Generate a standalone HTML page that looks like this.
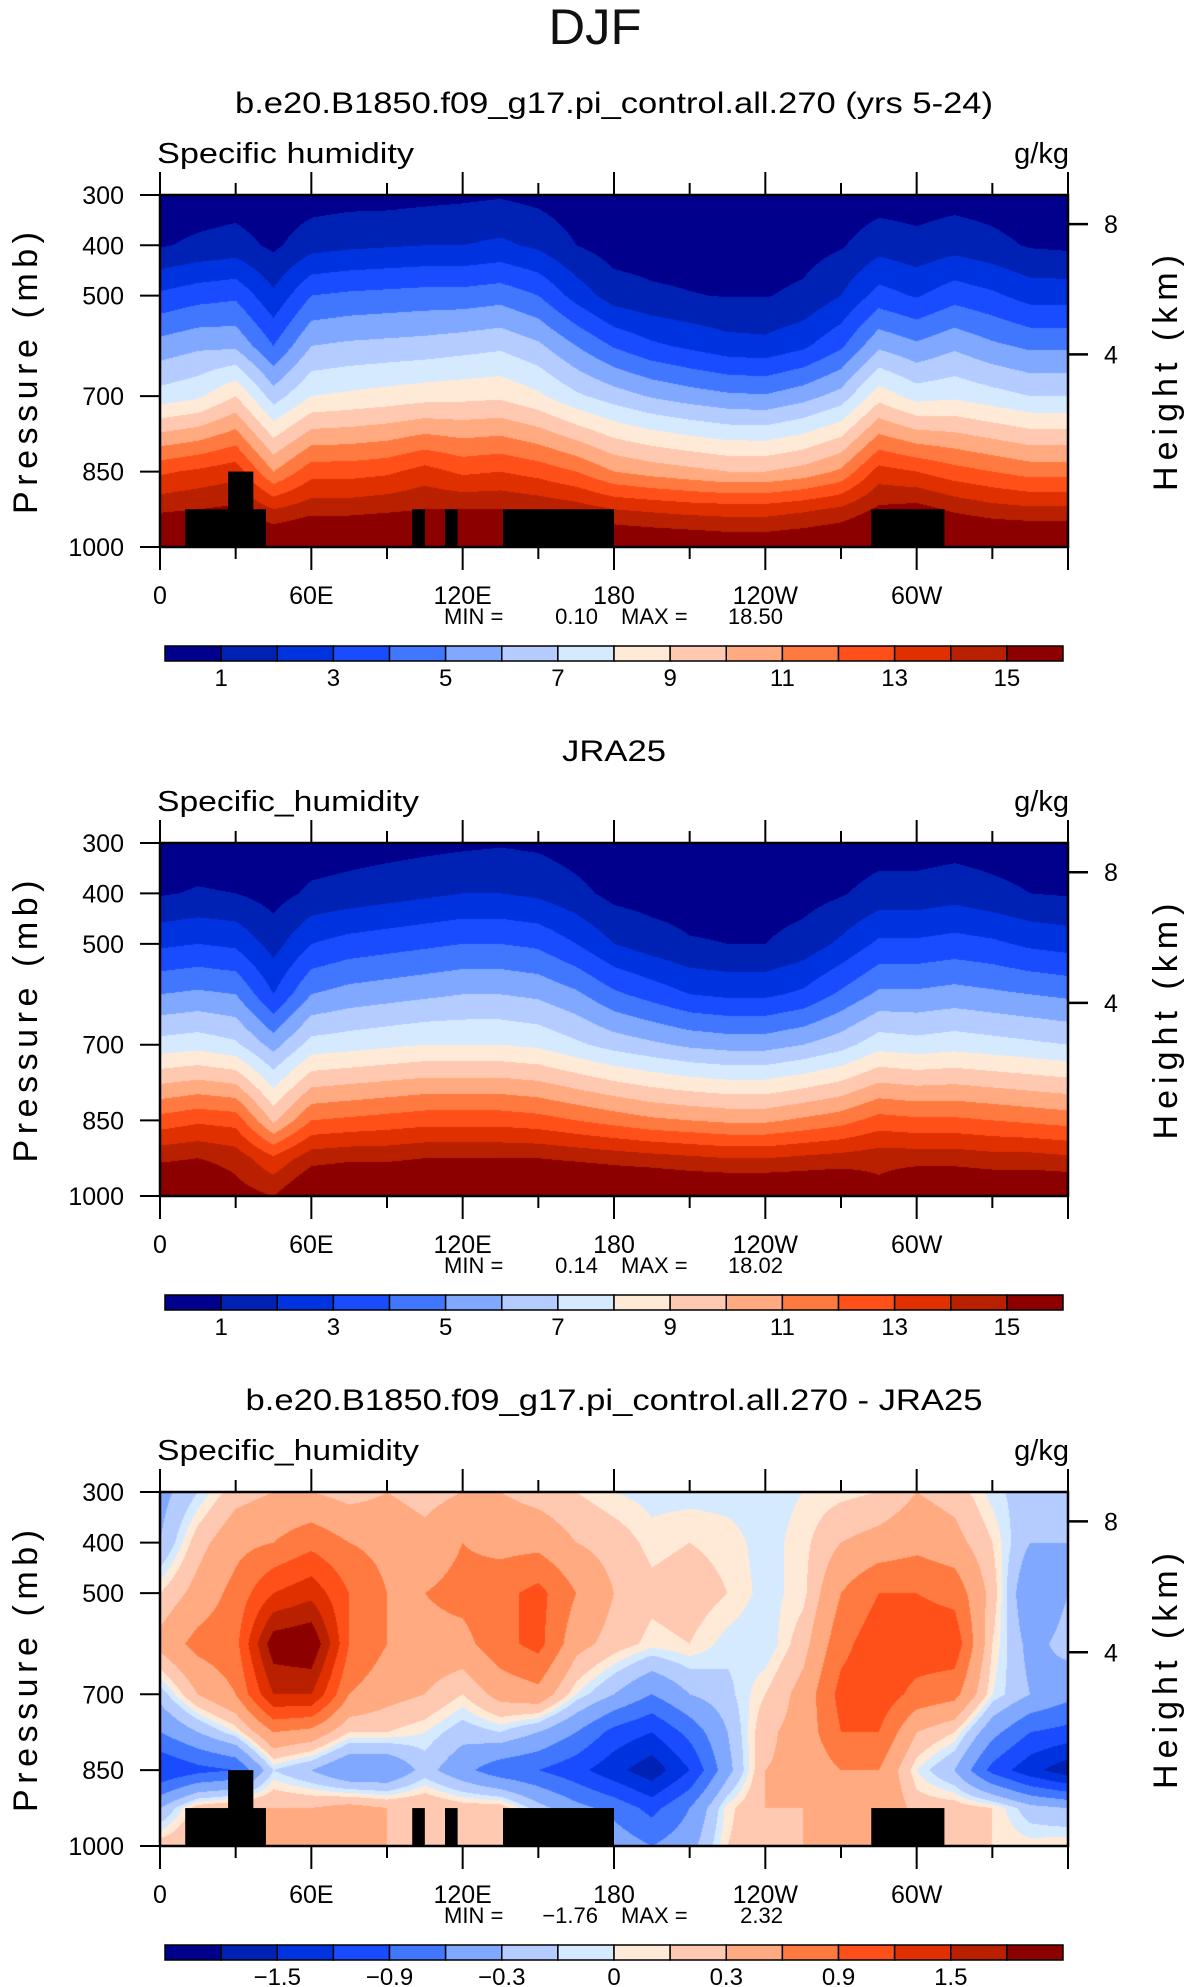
<!DOCTYPE html>
<html><head><meta charset="utf-8">
<style>
html,body{margin:0;padding:0;background:#fff;}
body{width:1190px;height:1987px;position:relative;overflow:hidden;font-family:"Liberation Sans",sans-serif;}
canvas{position:absolute;}
svg{position:absolute;left:0;top:0;}
</style></head>
<body>
<canvas id="c1"></canvas>
<canvas id="c2"></canvas>
<canvas id="c3"></canvas>
<svg id="svg" width="1190" height="1987" xmlns="http://www.w3.org/2000/svg"></svg>
<script>
// ---------- DATA ----------
const lons = [0,15,30,45,60,75,90,105,120,135,150,165,180,195,210,225,240,255,270,285,300,315,330,345,360];
const levs = [300,400,500,600,700,850,925,1000];
const levsDiff = [300,400,500,600,700,775,850,925,1000];
const qLevels = [1,2,3,4,5,6,7,8,9,10,11,12,13,14,15];
const qTickLabels = ["1","3","5","7","9","11","13","15"];
const dLevels = [-1.8,-1.5,-1.2,-0.9,-0.6,-0.3,-0.1,0,0.1,0.3,0.6,0.9,1.2,1.5,1.8];
const dTickLabels = ["\u22121.5","\u22120.9","\u22120.3","0","0.3","0.9","1.5"];
const dTickIdx = [1,3,5,7,9,11,13];
const qTickIdx = [0,2,4,6,8,10,12,14];
const xTickLabels = ["0","60E","120E","180","120W","60W"];
const xTickLons = [0,60,120,180,240,300];
// control run columns (one per lon), values at levs
const qModel = [
[0.3,0.9,3.2,5.4,7.4,12.8,14.8,17],[0.4,1.2,3.6,5.8,7.8,13.2,15,17],[0.5,1.4,3.8,5.8,9.0,13.6,15.2,17],
[0.3,0.8,2.2,4.0,6.5,11.0,14.0,16.5],[0.5,1.6,4.0,6.0,8.0,12.6,14.6,17],[0.6,1.8,4.2,6.2,8.2,12.6,14.6,17],
[0.6,1.9,4.3,6.3,8.4,12.8,14.8,17],[0.7,2.0,4.4,6.4,8.6,13.4,15.0,17],[0.8,2.0,4.4,6.6,8.7,12.8,15.0,17],
[0.9,2.2,4.6,6.8,8.8,13.0,15.0,17],[0.7,1.8,4.0,6.2,8.2,12.6,14.8,17],[0.4,1.0,2.6,5.0,7.2,12.0,14.5,17],
[0.3,0.55,1.5,3.9,6.5,11.0,14.0,16.5],[0.25,0.5,1.2,3.2,5.9,10.6,13.8,16.3],[0.2,0.5,1.05,2.8,5.5,10.3,13.6,16.2],
[0.2,0.5,0.95,2.4,5.2,10.0,13.5,16],[0.2,0.5,0.95,2.3,5.1,10.0,13.5,16],[0.2,0.6,1.2,2.8,5.6,10.4,13.8,16.2],
[0.3,0.9,2.0,3.8,6.4,11.2,14.2,16.5],[0.5,1.6,3.4,5.8,8.6,13.4,15.2,17],[0.5,1.3,2.9,5.2,7.6,13.0,15.4,17],
[0.6,1.6,3.6,5.8,7.8,12.4,14.8,17],[0.5,1.3,3.2,5.2,7.4,12.0,14.4,16.8],[0.3,0.9,2.6,4.8,7.0,11.6,14.2,16.8],
[0.3,0.8,2.6,4.8,7.0,11.6,14.2,16.8]];
// JRA25 columns
const qObs = [
[0.3,0.9,2.8,5.0,7.4,12.4,14.8,16.5],[0.4,1.1,3.0,5.2,7.6,12.8,15,16.5],[0.3,1.0,2.8,5.0,7.2,12.6,14.6,15.5],
[0.2,0.6,1.6,3.0,5.6,9.8,13.2,15.0],[0.4,1.2,3.0,5.0,7.4,12.0,14.6,16.5],[0.5,1.4,3.4,5.4,7.6,12.2,14.8,16.8],
[0.6,1.6,3.6,5.6,7.8,12.4,14.8,16.8],[0.7,1.8,3.8,5.8,8.0,12.6,15.0,17],[0.8,2.0,4.0,6.0,8.0,12.6,15.0,17],
[0.9,2.0,4.0,6.0,8.0,12.6,15.0,17],[0.8,1.8,3.8,5.8,7.8,12.4,15,17],[0.5,1.3,3.0,5.2,7.2,12.0,14.8,17],
[0.3,0.7,2.0,4.2,6.6,11.6,14.6,16.8],[0.25,0.55,1.5,3.6,6.2,11.2,14.4,16.8],[0.2,0.5,1.1,3.0,5.8,11.0,14.2,16.6],
[0.2,0.5,1.0,2.8,5.6,10.8,14.0,16.6],[0.2,0.5,1.0,2.8,5.6,10.8,14.0,16.6],[0.25,0.6,1.4,3.2,6.0,11.2,14.2,16.6],
[0.35,0.9,2.2,4.2,6.6,11.6,14.4,16.6],[0.5,1.4,3.2,5.2,7.6,12.4,14.6,15.5],[0.5,1.4,3.2,5.2,7.4,12.2,14.6,16.5],
[0.6,1.6,3.4,5.4,7.6,12.2,14.6,16.5],[0.5,1.3,3.2,5.2,7.4,12.0,14.4,16.4],[0.4,1.0,2.8,5.0,7.2,11.8,14.4,16.4],
[0.3,0.9,2.6,4.8,7.0,11.6,14.2,16.4]];
// difference columns, values at levsDiff
const qDiff = [
[-0.4,-0.3,0.1,0.4,-0.2,-0.6,-1.2,-0.3,0.2],[-0.1,0.2,0.4,0.7,0.3,-0.3,-1.0,0.2,0.3],[0.2,0.5,0.7,0.8,0.6,0.0,-0.9,0.3,0.4],
[0.3,0.6,1.2,2.0,1.5,0.6,-0.1,0.3,0.4],[0.3,0.8,1.4,2.1,1.5,0.5,-0.3,0.3,0.5],[0.2,0.6,0.9,0.9,0.6,0.1,-0.6,0.4,0.5],
[0.3,0.5,0.6,0.6,0.4,0.1,-0.6,0.3,0.3],[0.2,0.4,0.6,0.5,0.3,0.0,-0.2,0.3,0.2],[0.3,0.6,0.7,0.5,0.1,-0.2,-0.5,0.2,0.2],
[0.3,0.5,0.8,0.8,0.4,-0.1,-0.8,0.2,0.2],[0.2,0.5,1.0,1.0,0.5,-0.3,-0.9,-0.2,0.2],[0.1,0.3,0.6,0.4,0.0,-0.6,-1.1,-0.5,-0.2],
[0.0,0.2,0.3,0.2,-0.3,-1.0,-1.4,-0.7,-0.4],[-0.05,0.05,0.15,0.05,-0.6,-1.2,-1.7,-1.0,-0.6],[-0.05,0.1,0.2,0.1,-0.3,-0.8,-1.2,-0.6,-0.4],
[-0.05,0.05,0.1,-0.05,-0.15,-0.3,-0.4,0.05,0.1],[-0.05,-0.05,-0.05,-0.1,0.1,0.25,0.3,0.3,0.25],[0.0,0.05,0.05,0.2,0.4,0.4,0.35,0.3,0.3],
[0.05,0.3,0.6,0.8,1.0,0.9,0.6,0.5,0.5],[0.1,0.4,0.9,1.1,1.1,0.9,0.6,0.6,0.5],[0.3,0.5,0.9,1.1,0.8,0.3,0.0,0.2,0.2],
[0.2,0.4,0.8,1.1,0.7,0.1,-0.3,0.2,0.2],[-0.05,0.1,0.2,0.1,0.0,-0.5,-1.0,0.1,0.1],[-0.2,-0.3,-0.6,-0.4,-0.3,-0.9,-1.4,-0.2,0.05],
[-0.2,-0.3,-0.3,-0.2,-0.5,-1.0,-1.7,-0.3,0.1]];
// topography mask boxes (lon start, lon end, top pressure)
const maskLon0 = [10,27,100,113,136,282];
const maskLon1 = [42,37,105,118,180,311];
const maskTopP = [925,850,925,925,925,925];
const heightKm = [8,4];
const heightP = [358,617];
const colors = ["#00008c","#0022b4","#0033e0","#1a4cff","#4177ff","#80a8ff","#b4ccff","#d6eaff","#ffead8","#ffc8b0","#ffaa80","#ff7a40","#ff5019","#e03000","#b82000","#8c0000"];

// ---------- LAYOUT ----------
const X0=160, X1=1068;
const plots=[
 {id:"c1",y0:195,y1:547,data:qModel,lv:levs,bounds:qLevels,labels:qTickLabels,lidx:qTickIdx,mask:true,
  title:"b.e20.B1850.f09_g17.pi_control.all.270 (yrs 5-24)",tl:758,sub:"Specific humidity",stl:257,min:"0.10",max:"18.50",name:"control"},
 {id:"c2",y0:843,y1:1196,data:qObs,lv:levs,bounds:qLevels,labels:qTickLabels,lidx:qTickIdx,mask:false,
  title:"JRA25",tl:104,sub:"Specific_humidity",stl:262,min:"0.14",max:"18.02",name:"jra25"},
 {id:"c3",y0:1492,y1:1846,data:qDiff,lv:levsDiff,bounds:dLevels,labels:dTickLabels,lidx:dTickIdx,mask:true,
  title:"b.e20.B1850.f09_g17.pi_control.all.270 - JRA25",tl:737,sub:"Specific_humidity",stl:262,min:"\u22121.76",max:"2.32",name:"difference"}
];
const NS="http://www.w3.org/2000/svg";
const svg=document.getElementById('svg');
function el(tag,attrs,parent){const e=document.createElementNS(NS,tag);for(const k in attrs)e.setAttribute(k,attrs[k]);(parent||svg).appendChild(e);return e;}
function txt(s,attrs,parent){const t=el('text',attrs,parent);t.textContent=s;return t;}
function hex(c){return [parseInt(c.substr(1,2),16),parseInt(c.substr(3,2),16),parseInt(c.substr(5,2),16)];}
const rgb=colors.map(hex);

const big=txt("DJF",{x:595,y:44,"text-anchor":"middle","font-size":50,fill:"#111",textLength:93,lengthAdjust:"spacingAndGlyphs"});



plots.forEach(P=>{
  const W=X1-X0, H=P.y1-P.y0;
  const xs=lon=>X0+lon/360*W;
  const ys=p=>P.y0+(p-300)/700*H;
  const cv=document.getElementById(P.id);
  cv.width=W;cv.height=H;cv.style.left=X0+'px';cv.style.top=P.y0+'px';
  const ctx=cv.getContext('2d');const img=ctx.createImageData(W,H);
  for(let py=0;py<H;py++){
    const p=300+(py+0.5)/H*700;
    let k=0;while(k<P.lv.length-2&&p>P.lv[k+1])k++;
    const fp=(p-P.lv[k])/(P.lv[k+1]-P.lv[k]);
    for(let px=0;px<W;px++){
      const lon=(px+0.5)/W*360;
      let i=Math.min(Math.floor(lon/15),lons.length-2);
      const fl=(lon-lons[i])/(lons[i+1]-lons[i]);
      const a=P.data[i][k]*(1-fp)+P.data[i][k+1]*fp;
      const b=P.data[i+1][k]*(1-fp)+P.data[i+1][k+1]*fp;
      const v=a*(1-fl)+b*fl;
      let ci=0;while(ci<P.bounds.length&&v>=P.bounds[ci])ci++;
      const c=rgb[ci];const o=(py*W+px)*4;
      img.data[o]=c[0];img.data[o+1]=c[1];img.data[o+2]=c[2];img.data[o+3]=255;
    }
  }
  ctx.putImageData(img,0,0);
  const g=el('g',{});
  
  
  if(P.mask){
    for(let m=0;m<maskLon0.length;m++){
      const r=el('rect',{x:xs(maskLon0[m]),y:ys(maskTopP[m]),width:xs(maskLon1[m])-xs(maskLon0[m]),height:P.y1-ys(maskTopP[m]),fill:"#000"},g);
      
      
    }
  }
  const fr=el('rect',{x:X0,y:P.y0,width:W,height:H,fill:"none",stroke:"#000","stroke-width":2.5},g);
  
  
  for(let lon=0;lon<=360;lon+=30){
    const major=lon%60===0, L=major?23:12, x=xs(lon);
    el('line',{x1:x,x2:x,y1:P.y0,y2:P.y0-L,stroke:"#000","stroke-width":2},g);
    el('line',{x1:x,x2:x,y1:P.y1,y2:P.y1+L,stroke:"#000","stroke-width":2},g);
  }
  xTickLabels.forEach((s,j)=>{
    const t=txt(s,{x:xs(xTickLons[j]),y:P.y1+57,"text-anchor":"middle","font-size":25,fill:"#000"},g);
    
    
  });
  [300,400,500,700,850,1000].forEach(p=>{
    el('line',{x1:X0,x2:X0-20,y1:ys(p),y2:ys(p),stroke:"#000","stroke-width":2},g);
    const t=txt(String(p),{x:124,y:ys(p)+9,"text-anchor":"end","font-size":25,fill:"#000"},g);
    
    
  });
  heightKm.forEach((h,j)=>{
    const y=ys(heightP[j]);
    el('line',{x1:X1,x2:X1+20,y1:y,y2:y,stroke:"#000","stroke-width":2.5},g);
    const t=txt(String(h),{x:X1+43,y:y+9,"text-anchor":"middle","font-size":25,fill:"#000"},g);
    
    
  });
  const cy=(P.y0+P.y1)/2+2;
  const yt=txt("Pressure (mb)",{x:0,y:0,"text-anchor":"middle","font-size":34,fill:"#000",textLength:282,lengthAdjust:"spacing",transform:`translate(37,${cy}) rotate(-90)`},g);
  
  
  const rt=txt("Height (km)",{x:0,y:0,"text-anchor":"middle","font-size":34,fill:"#000",textLength:236,lengthAdjust:"spacing",transform:`translate(1177,${cy}) rotate(-90)`},g);
  
  
  const ti=txt(P.title,{x:614,y:P.y0-82,"text-anchor":"middle","font-size":30,fill:"#000",textLength:P.tl,lengthAdjust:"spacingAndGlyphs"},g);
  
  
  const su=txt(P.sub,{x:157,y:P.y0-32,"font-size":29,fill:"#000",textLength:P.stl,lengthAdjust:"spacingAndGlyphs"},g);
  
  
  const un=txt("g/kg",{x:1069,y:P.y0-32,"text-anchor":"end","font-size":29,fill:"#000"},g);
  
  
  const mm=el('g',{"font-size":22,fill:"#000"},g);
  
  
  txt("MIN =",{x:444,y:P.y1+77},mm);
  txt(P.min,{x:598,y:P.y1+77,"text-anchor":"end"},mm);
  txt("MAX =",{x:621,y:P.y1+77},mm);
  txt(P.max,{x:783,y:P.y1+77,"text-anchor":"end"},mm);
  const cb=el('g',{},g);
  
  
  const bx0=165,bx1=1063,bw=(bx1-bx0)/colors.length,by=P.y1+99;
  colors.forEach((c,j)=>{
    const r=el('rect',{x:bx0+j*bw,y:by,width:bw,height:15,fill:c,stroke:"#000","stroke-width":1.5},cb);
    
    
  });
  P.labels.forEach((s,j)=>{
    const t=txt(s,{x:bx0+(P.lidx[j]+1)*bw,y:by+40,"text-anchor":"middle","font-size":24,fill:"#000"},cb);
    
    
  });
});
</script>
</body></html>
